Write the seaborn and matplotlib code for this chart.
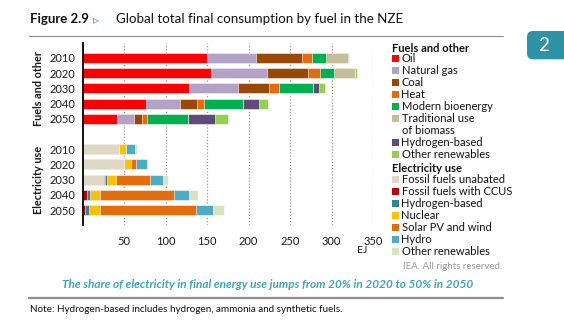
import matplotlib
matplotlib.use('Agg')
import matplotlib.pyplot as plt
from matplotlib.patches import Rectangle, FancyBboxPatch
from matplotlib.lines import Line2D
from matplotlib.transforms import IdentityTransform
import seaborn as sns
import pandas as pd
import numpy as np

# ---------------- data ----------------
years = ['2010', '2020', '2030', '2040', '2050']
group_labels = ['Fuels and other', 'Electricity use']

fuel_labels = ['Oil', 'Natural gas', 'Coal', 'Heat', 'Modern bioenergy',
               'Traditional use\nof biomass', 'Hydrogen-based', 'Other renewables']
oil = [150.4, 154.4, 128.7, 76.5, 42.0]
natural_gas = [58.0, 67.8, 58.7, 41.0, 20.0]
coal = [55.8, 49.8, 37.3, 20.5, 10.0]
heat = [12.0, 13.3, 12.4, 8.8, 6.0]
modern_bioenergy = [16.5, 17.7, 39.8, 46.6, 49.0]
traditional_biomass = [27.0, 25.3, 0.0, 0.0, 0.0]
hydrogen_fuels = [0.0, 0.0, 8.0, 18.5, 32.5]
other_renewables_fuels = [1.0, 2.4, 6.4, 11.6, 15.3]

elec_labels = ['Fossil fuels unabated', 'Fossil fuels with CCUS', 'Hydrogen-based',
               'Nuclear', 'Solar PV and wind', 'Hydro', 'Other renewables']
fossil_unabated = [44.0, 50.0, 25.9, 1.0, 0.0]
fossil_ccus = [0.0, 0.0, 1.2, 4.0, 3.3]
hydrogen_elec = [0.0, 0.0, 2.0, 4.5, 4.8]
nuclear = [8.0, 8.0, 10.8, 11.7, 12.4]
solar_wind = [0.5, 6.8, 41.0, 88.5, 115.7]
hydro = [11.2, 12.8, 16.4, 18.9, 20.5]
other_renewables_elec = [1.6, 0.8, 6.0, 10.8, 13.6]

x_ticks = [50, 100, 150, 200, 250, 300, 350]

# ---------------- styles ----------------
fuel_colors = ['#FF0000', '#B3A2C7', '#984807', '#E46C0A', '#00B050',
               '#C4BD97', '#604A7B', '#92D050']
elec_colors = ['#DDD9C4', '#C00000', '#31849B', '#FFC000', '#E46C0A',
               '#4BACC6', '#D7E4BD']
TEAL = '#2E93A7'

sns.set_style('white')
plt.rcParams['font.family'] = ['Lato', 'DejaVu Sans']

W, H = 564, 335
fig = plt.figure(figsize=(W / 100, H / 100), dpi=100)


def fx(px):
    return px / W


def fy(py):
    return 1 - py / H


ax = fig.add_axes([fx(82.5), fy(225.25), fx(373.3) - fx(82.5), fy(42.75) - fy(225.25)])

fuel_pos = [0, 1, 2, 3, 4]
elec_pos = [6, 7, 8, 9, 10]


def stacked(ax, pos, series, colors):
    cum = np.cumsum(np.array(series, dtype=float), axis=0)
    for i in range(len(series) - 1, -1, -1):
        df = pd.DataFrame({'pos': pos, 'value': cum[i]})
        sns.barplot(data=df, x='value', y='pos', orient='h', native_scale=True,
                    color=colors[i], saturation=1, width=0.66,
                    edgecolor='white', linewidth=0.4, errorbar=None, ax=ax)


stacked(ax, fuel_pos,
        [oil, natural_gas, coal, heat, modern_bioenergy, traditional_biomass,
         hydrogen_fuels, other_renewables_fuels], fuel_colors)
stacked(ax, elec_pos,
        [fossil_unabated, fossil_ccus, hydrogen_elec, nuclear, solar_wind,
         hydro, other_renewables_elec], elec_colors)

ax.set_xlim(0, 350)
ax.set_ylim(11, -1)
ax.set_xlabel('')
ax.set_ylabel('')
ax.set_axisbelow(True)
ax.grid(axis='x', linestyle=(0, (1, 1.5)), color='#9A9A9A', linewidth=0.9)
ax.grid(axis='y', visible=False)
ax.set_xticks(x_ticks)
ax.set_xticklabels([str(t) for t in x_ticks])
ax.tick_params(axis='x', length=0, pad=8, labelsize=8, labelcolor='#1a1a1a')
ax.set_yticks(fuel_pos + elec_pos)
ax.set_yticklabels(years + years)
ax.tick_params(axis='y', which='major', length=0, pad=5, labelsize=8, labelcolor='#1a1a1a')
ax.set_yticks([-1, 5, 11], minor=True)
ax.tick_params(axis='y', which='minor', length=2.5, width=1.2, color='black')
for s in ['top', 'right', 'bottom']:
    ax.spines[s].set_visible(False)
ax.spines['left'].set_color('black')
ax.spines['left'].set_linewidth(1.3)

# group labels
fig.text(fx(39), fy(88.3), group_labels[0], rotation=90, ha='center', va='center',
         fontsize=7.8, fontweight='bold', color='#1a1a1a')
fig.text(fx(39), fy(180), group_labels[1], rotation=90, ha='center', va='center',
         fontsize=7.8, fontweight='bold', color='#1a1a1a')
fig.text(fx(361.7), fy(250.5), 'EJ', ha='center', va='center', fontsize=7.5, color='#1a1a1a')

# title
fig.text(fx(29.5), fy(19), 'Figure 2.9', fontsize=9.5, fontweight='bold', va='center', color='#111111')
fig.text(fx(93), fy(19.5), '\u25b9', fontsize=8.5, va='center', color=TEAL,
         family=['DejaVu Sans'], fontweight='bold')
fig.text(fx(116.5), fy(19), 'Global total final consumption by fuel in the NZE', fontsize=9.6,
         va='center', color='#111111')
fig.add_artist(Line2D([fx(29), fx(503)], [fy(35.7), fy(35.7)], color='#8C8C8C', lw=0.8))

# tab
tab = FancyBboxPatch((527, H - 59.3), 50, 28.3, boxstyle='round,pad=0,rounding_size=6',
                     transform=IdentityTransform(), facecolor=TEAL, edgecolor='none')
fig.add_artist(tab)
fig.text(fx(543.5), fy(45.5), '2', ha='center', va='center', fontsize=13.5, color='white')

# legend
LEG_X_BOX = 392.3
LEG_X_TXT = 401.5
LS = 11.8


def legend_block(header, y_header, labels, colors, y0):
    fig.text(fx(LEG_X_BOX), fy(y_header), header, fontsize=8, fontweight='bold',
             va='center', color='#111111')
    y = y0
    for lab, col in zip(labels, colors):
        fig.add_artist(Rectangle((fx(LEG_X_BOX), fy(y + 3.5)), fx(7), 7 / H,
                                 transform=fig.transFigure, facecolor=col, edgecolor='none'))
        for k, line in enumerate(lab.split('\n')):
            fig.text(fx(LEG_X_TXT), fy(y + k * LS), line, fontsize=8, va='center', color='#111111')
            if k > 0:
                y += LS
        y += LS + 0.25
    return y


legend_block(group_labels[0], 48.3, fuel_labels, fuel_colors, 58.3)
legend_block(group_labels[1], 169, elec_labels, elec_colors, 179.3)

fig.text(fx(502), fy(266.7), 'IEA. All rights reserved.', ha='right', va='center',
         fontsize=7, color='#9A9A9A')

# caption and note
fig.text(fx(267.5), fy(284), 'The share of electricity in final energy use jumps from 20% in 2020 to 50% in 2050',
         ha='center', va='center', fontsize=8.5, fontweight='bold', fontstyle='italic', color='#3AA6BD')
fig.add_artist(Line2D([fx(29), fx(503)], [fy(297.7), fy(297.7)], color='#8C8C8C', lw=1.6))
fig.text(fx(30.5), fy(310), 'Note: Hydrogen-based includes hydrogen, ammonia and synthetic fuels.',
         va='center', fontsize=7.1, color='#111111')

fig.savefig('out.png', dpi=100)
